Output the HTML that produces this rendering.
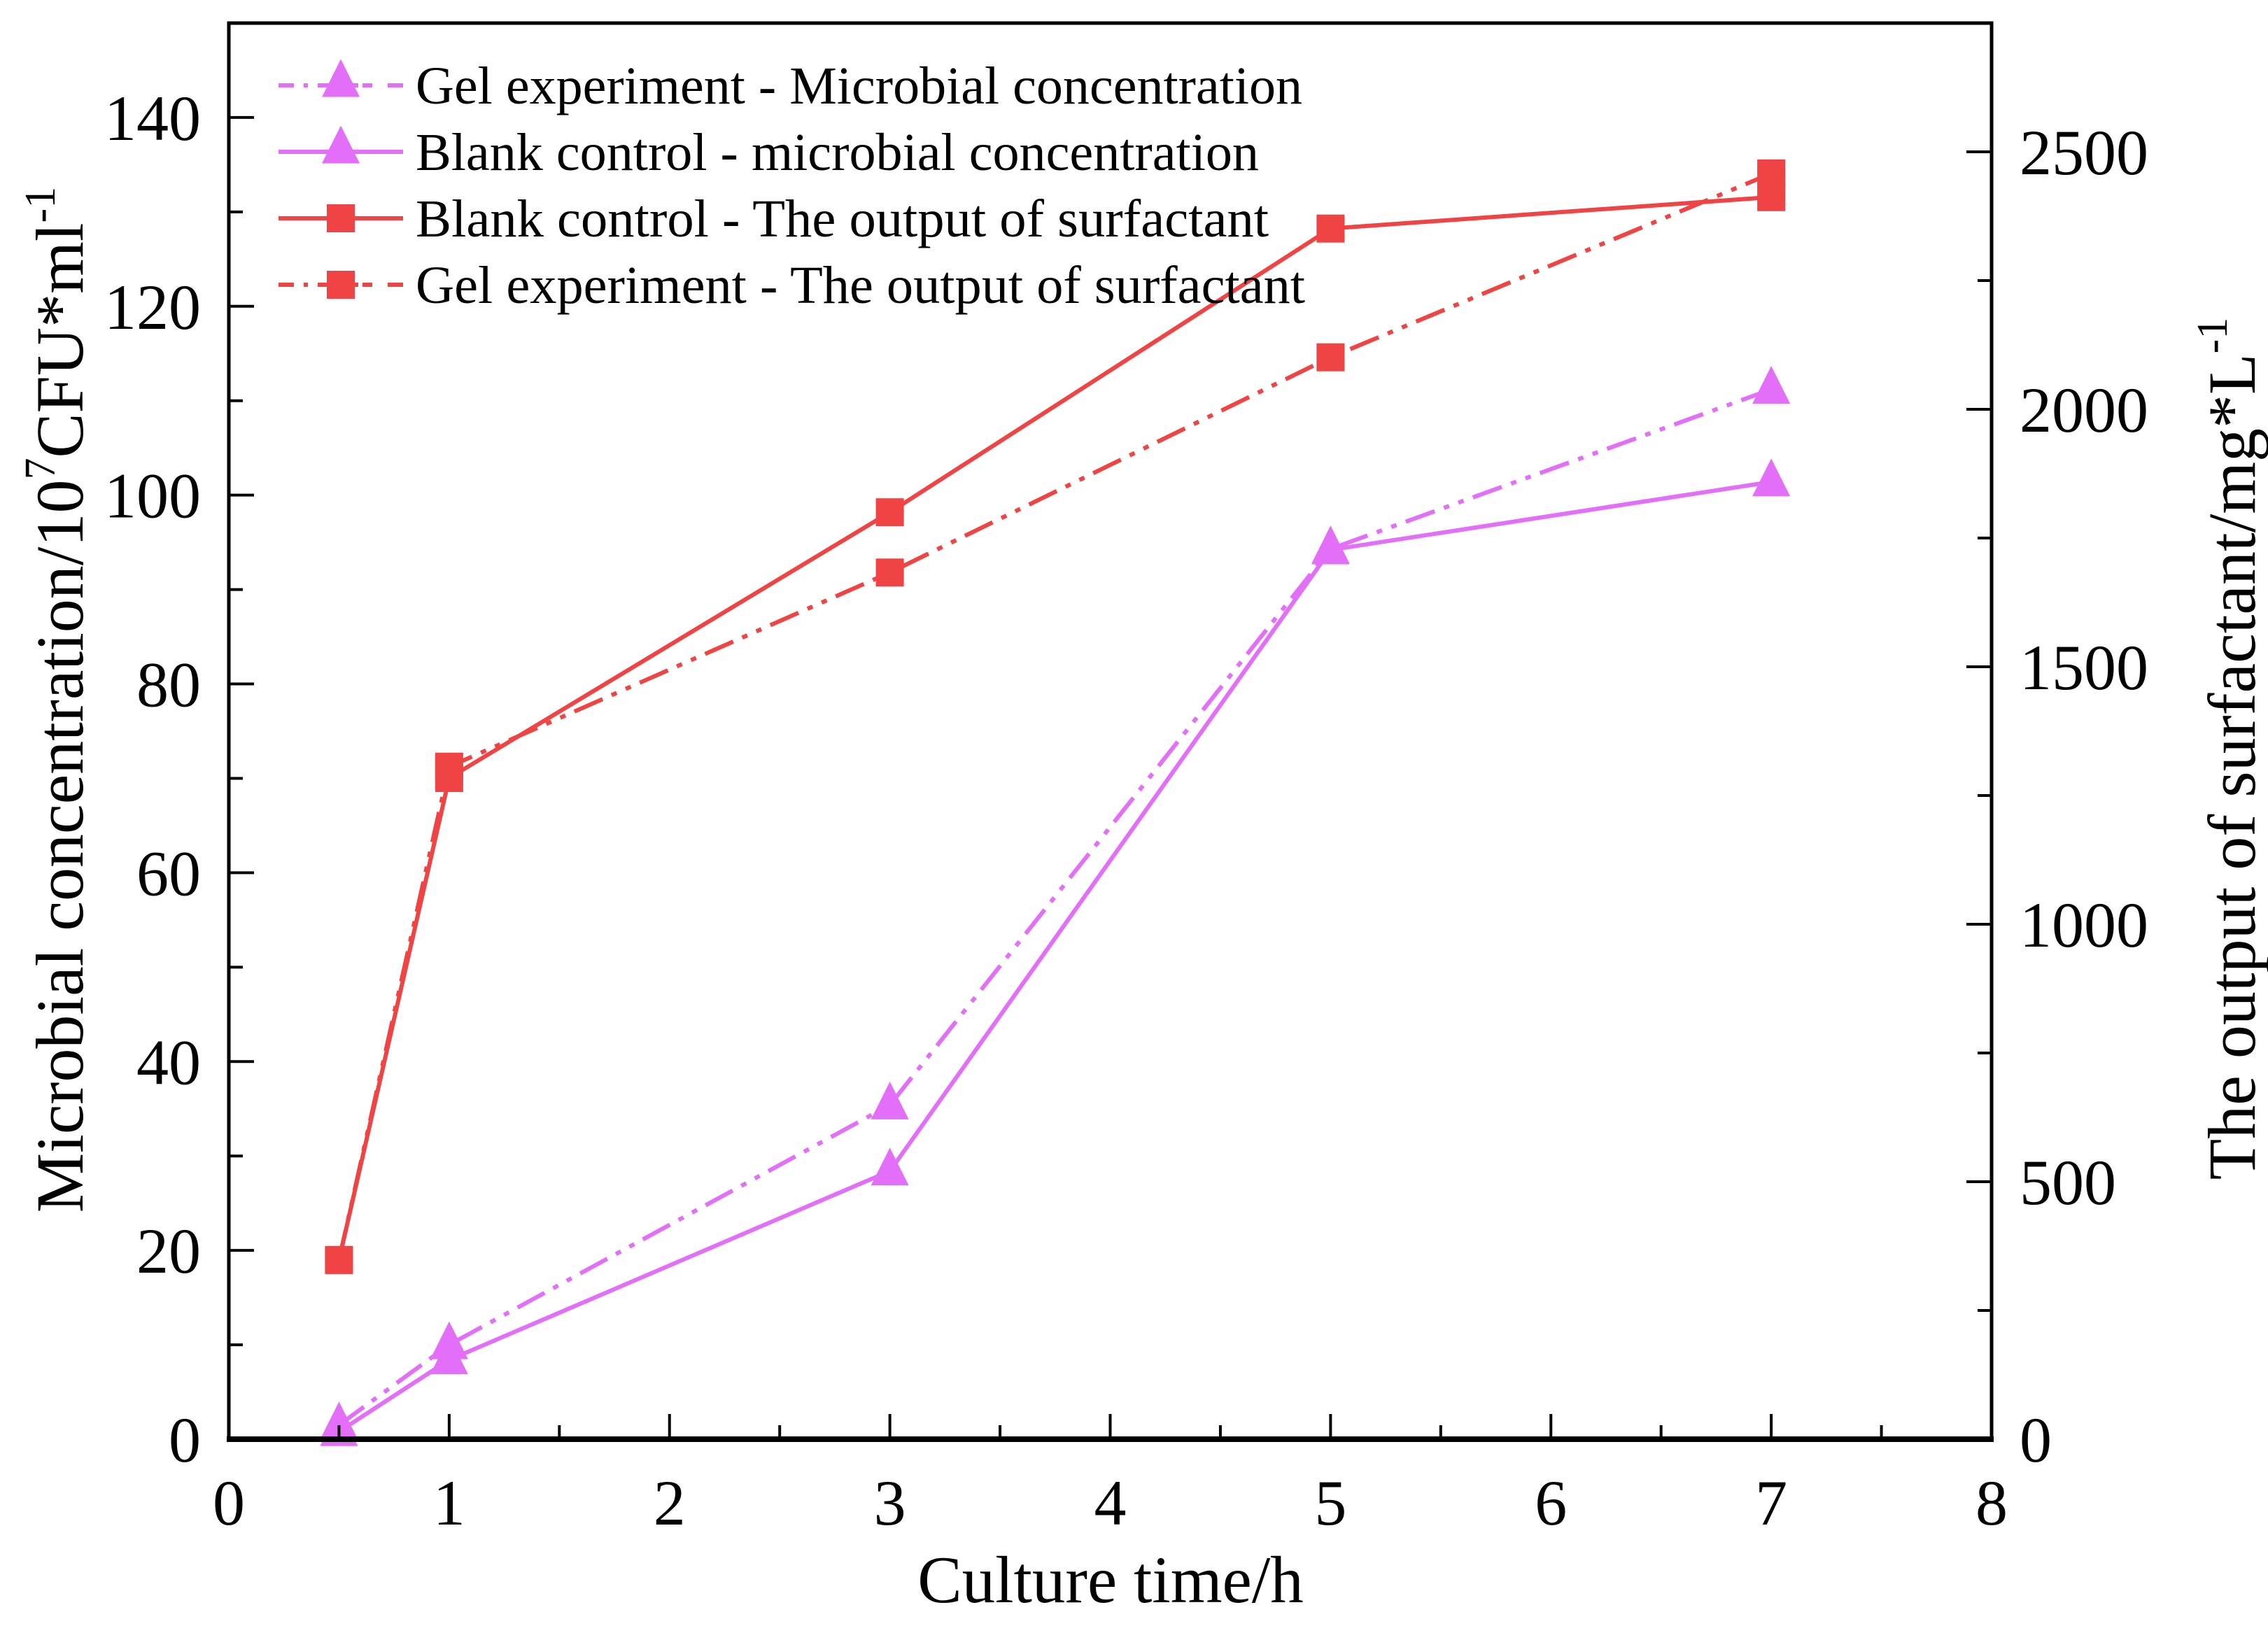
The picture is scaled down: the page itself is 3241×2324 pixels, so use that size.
<!DOCTYPE html>
<html><head><meta charset="utf-8"><style>
body{margin:0;background:#fff}
svg{display:block;font-family:"Liberation Serif",serif}
</style></head><body>
<svg id="chart" width="3241" height="2324" viewBox="0 0 3241 2324" xmlns="http://www.w3.org/2000/svg">
<rect width="3241" height="2324" fill="#fff"/>
<g id="marks"></g>
<g id="axes"></g>
<text x="1587" y="2290" font-size="95" text-anchor="middle">Culture time/h</text>
<text transform="translate(118,1000) rotate(-90)" font-size="96" text-anchor="middle">Microbial concentration/10<tspan font-size="62" dy="-40">7</tspan><tspan dy="40">CFU*ml</tspan><tspan font-size="62" dy="-40">-1</tspan></text>
<text transform="translate(3222,1070) rotate(-90)" font-size="96" text-anchor="middle">The output of surfactant/mg*L<tspan font-size="62" dy="-40">-1</tspan></text>
<g id="legend"></g>
</svg>
<script>
const times=[0.5,1,3,5,7];
const gelMicro=[1.5,10,35.4,94.3,111.2];
const blankMicro=[0.8,8.4,28.4,94.2,101.4];
const blankSurf=[348,1284,1800,2351,2412];
const gelSurf=[348,1306,1683,2101,2458];
const xTicks=[0,1,2,3,4,5,6,7,8];
const yLeftTicks=[0,20,40,60,80,100,120,140];
const yRightTicks=[0,500,1000,1500,2000,2500];

const L=327,R=2846,T=33,B=2057;
const X=v=>L+(v-0)/(8-0)*(R-L);
const YL=v=>B-v/150*(B-T);
const YR=v=>B-v/2750*(B-T);
const NS="http://www.w3.org/2000/svg";
function mk(tag,attrs,parent){const e=document.createElementNS(NS,tag);for(const k in attrs)e.setAttribute(k,attrs[k]);parent.appendChild(e);return e;}
const marks=document.getElementById('marks'),axes=document.getElementById('axes'),leg=document.getElementById('legend');
const MAG="#E36EF7",RED="#F04444",DD="44 14 8 14 8 14";
function tri(cx,cy,s,col,p){return mk('polygon',{points:`${cx},${cy-s*0.62} ${cx-s*0.5},${cy+s*0.38} ${cx+s*0.5},${cy+s*0.38}`,fill:col},p);}
function sq(cx,cy,s,col,p){return mk('rect',{x:cx-s/2,y:cy-s/2,width:s,height:s,fill:col},p);}
const series=[
 {name:'gel-microbial',vals:gelMicro,y:YL,col:MAG,dash:DD,m:'tri'},
 {name:'blank-microbial',vals:blankMicro,y:YL,col:MAG,dash:'',m:'tri'},
 {name:'blank-surfactant',vals:blankSurf,y:YR,col:RED,dash:'',m:'sq'},
 {name:'gel-surfactant',vals:gelSurf,y:YR,col:RED,dash:DD,m:'sq'}
];
series.forEach(s=>{
 const g=mk('g',{},marks);
 
 
 const pl=mk('polyline',{points:times.map((t,i)=>X(t)+','+s.y(s.vals[i])).join(' '),fill:'none',stroke:s.col,'stroke-width':6,'stroke-dasharray':s.dash},g);
 
 
 times.forEach((t,i)=>{
  const e=s.m==='tri'?tri(X(t),s.y(s.vals[i]),54,s.col,g):sq(X(t),s.y(s.vals[i]),40,s.col,g);
  
  
 });
});
mk('rect',{x:L,y:T,width:R-L,height:B-T,fill:'none',stroke:'#000','stroke-width':5},axes);
const xb=mk('line',{x1:L-3,y1:B,x2:R+3,y2:B,stroke:'#000','stroke-width':8},axes);

const tickStyle={stroke:'#000','stroke-width':4};
xTicks.forEach(v=>{
 mk('line',Object.assign({x1:X(v),y1:B,x2:X(v),y2:B-36},tickStyle),axes);
 if(v<8)mk('line',Object.assign({x1:X(v+0.5),y1:B,x2:X(v+0.5),y2:B-20},tickStyle),axes);
 const t=mk('text',{x:X(v),y:B+122,'font-size':92,'text-anchor':'middle'},axes);t.textContent=v;
 
});
for(let v=0;v<=150;v+=10){
 const big=v%20===0;
 mk('line',Object.assign({x1:L,y1:YL(v),x2:L+(big?36:20),y2:YL(v)},tickStyle),axes);
}
yLeftTicks.forEach(v=>{
 const t=mk('text',{x:L-40,y:YL(v)+32,'font-size':92,'text-anchor':'end'},axes);t.textContent=v;
 
});
for(let v=0;v<=2750;v+=250){
 const big=v%500===0;
 mk('line',Object.assign({x1:R,y1:YR(v),x2:R-(big?36:20),y2:YR(v)},tickStyle),axes);
}
yRightTicks.forEach(v=>{
 const t=mk('text',{x:R+40,y:YR(v)+32,'font-size':92,'text-anchor':'start'},axes);t.textContent=v;
 
});
const labels=['Gel experiment - Microbial concentration','Blank control - microbial concentration','Blank control - The output of surfactant','Gel experiment - The output of surfactant'];
const labelLens=[1267,1205,1219,1271];
series.forEach((s,i)=>{
 const y=122+i*95;
 const g=mk('g',{},leg);
 
 
 mk('line',{x1:398,y1:y,x2:576,y2:y,stroke:s.col,'stroke-width':6,'stroke-dasharray':s.dash?'22 14 6 14 22':''},g);
 if(s.m==='tri')tri(487,y-4,54,s.col,g);else sq(487,y,40,s.col,g);
 const t=mk('text',{x:594,y:y+26,'font-size':76,textLength:labelLens[i],lengthAdjust:'spacingAndGlyphs'},g);t.textContent=labels[i];
});
</script>
</body></html>
